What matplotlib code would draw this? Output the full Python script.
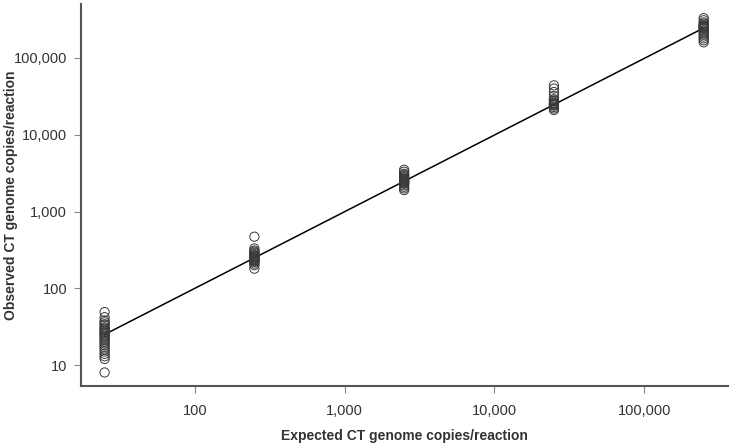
import numpy as np
import matplotlib.pyplot as plt
from matplotlib.ticker import FixedLocator, FuncFormatter, NullLocator

plt.rcParams['font.family'] = ['Liberation Sans', 'DejaVu Sans']

# expected copies per reaction (dilution series)
expected = [25, 250, 2500, 25000, 250000]

# observed copies per reaction, one list per dilution
obs_25 = [49, 42, 38, 36, 34, 33, 31, 30, 29, 28, 27, 26, 25, 24, 23, 22,
          21, 20, 19, 18, 17, 16, 15, 14, 13, 12, 8]
obs_250 = [470, 330, 310, 300, 290, 280, 270, 265, 260, 255, 250, 245, 240,
           235, 230, 225, 220, 210, 200, 180]
obs_2500 = [3500, 3300, 3100, 3000, 2900, 2800, 2700, 2650, 2600, 2550, 2500,
            2450, 2400, 2350, 2300, 2200, 2100, 2000, 1900]
obs_25000 = [44000, 40000, 36000, 32000, 29000, 28000, 27000, 26000, 25500,
             25000, 24500, 24000, 23000, 22000, 21000]
obs_250000 = [330000, 310000, 290000, 280000, 270000, 265000, 260000, 255000,
              250000, 245000, 240000, 230000, 220000, 210000, 200000, 190000,
              180000, 170000, 160000]
observed = [obs_25, obs_250, obs_2500, obs_25000, obs_250000]

# regression line end points
fit_x = [25, 250000]
fit_y = [25, 246000]

tick_vals = [10, 100, 1000, 10000, 100000]

fig = plt.figure(figsize=(7.32, 4.44), dpi=100)
ax = fig.add_axes([0.1107, 0.1306, 0.9945 - 0.1107, 0.991 - 0.1306])

for xv, ys in zip(expected, observed):
    ax.scatter([xv] * len(ys), ys, s=44, facecolors='none',
               edgecolors='#3a3a3a', linewidths=0.7, zorder=3)

ax.plot(fit_x, fit_y, color='black', lw=1.1, zorder=2)

ax.set_xscale('log')
ax.set_yscale('log')
ax.set_xlim(17.4, 363000)
ax.set_ylim(5.33, 5.05e5)

fmt = FuncFormatter(lambda v, p: f'{int(round(v)):,}')
ax.xaxis.set_major_locator(FixedLocator(tick_vals[1:]))
ax.yaxis.set_major_locator(FixedLocator(tick_vals))
ax.xaxis.set_minor_locator(NullLocator())
ax.yaxis.set_minor_locator(NullLocator())
ax.xaxis.set_major_formatter(fmt)
ax.yaxis.set_major_formatter(fmt)

for side in ['top', 'right']:
    ax.spines[side].set_visible(False)
for side in ['left', 'bottom']:
    ax.spines[side].set_color('#555555')
    ax.spines[side].set_linewidth(1.5)

ax.tick_params(direction='out', length=5, width=0.8, color='#888888',
               labelsize=10.5, labelcolor='#333333')
ax.tick_params(axis='x', pad=8)
ax.tick_params(axis='y', pad=5)

ax.set_xlabel('Expected CT genome copies/reaction', fontsize=10,
              fontweight='bold', color='#333333', va='top')
ax.xaxis.set_label_coords(0.5, -0.113)
ax.set_ylabel('Observed CT genome copies/reaction', fontsize=10,
              fontweight='bold', color='#333333')
ax.yaxis.set_label_coords(-0.097, 0.5)

fig.savefig('out.png', dpi=100)
